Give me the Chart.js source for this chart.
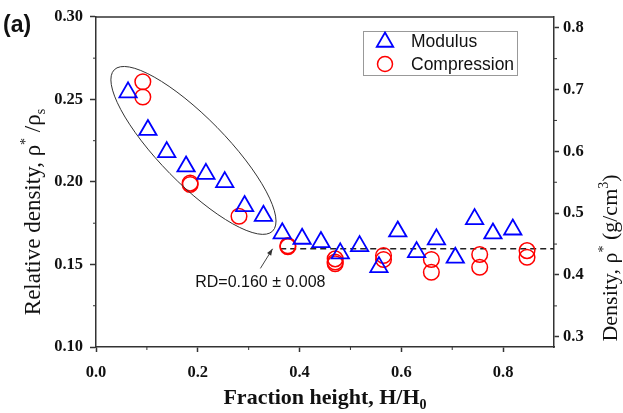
<!DOCTYPE html>
<html>
<head>
<meta charset="utf-8">
<title>Relative density vs fraction height</title>
<script src="https://cdn.jsdelivr.net/npm/chart.js@4.4.1/dist/chart.umd.min.js"></script>
<style>
	html, body { margin: 0; padding: 0; background: #fff; }
	#wrap { width: 623px; height: 413px; }
</style>
</head>
<body>
<div id="wrap"><canvas id="chart" width="623" height="413"></canvas></div>
<script>
// values
const modulusX = [0.063, 0.102, 0.139, 0.177, 0.216, 0.253, 0.292, 0.329, 0.366, 0.405, 0.442,
	0.480, 0.518, 0.556, 0.593, 0.630, 0.669, 0.706, 0.744, 0.780, 0.819];
const modulusY = [0.2543, 0.2315, 0.2181, 0.2094, 0.2049, 0.1999, 0.1854, 0.1795, 0.1689, 0.1656, 0.1636,
	0.1567, 0.1611, 0.1484, 0.1700, 0.1575, 0.1652, 0.1541, 0.1775, 0.1688, 0.1712];

const compressionX = [0.092, 0.092, 0.185, 0.185, 0.281, 0.377, 0.377, 0.470, 0.470, 0.470,
	0.565, 0.565, 0.659, 0.659, 0.754, 0.754, 0.847, 0.847];
const compressionY = [0.2607, 0.2515, 0.1993, 0.1985, 0.1792, 0.1614, 0.1608, 0.1534, 0.1515, 0.1504,
	0.1554, 0.1530, 0.1530, 0.1453, 0.1560, 0.1483, 0.1584, 0.1544];

// RD = 0.160 +/- 0.008 reference line
const rdLineX = [0.362, 0.9];
const rdLineY = [0.1595, 0.1595];
const rdLabel = 'RD=0.160 \u00b1 0.008';

// tick labels
const xTicks = [0.0, 0.2, 0.4, 0.6, 0.8];
const xMinor = [0.1, 0.3, 0.5, 0.7];
const yTicks = [0.10, 0.15, 0.20, 0.25, 0.30];
const yMinor = [0.125, 0.175, 0.225, 0.275];
const densityTicks = [0.3, 0.4, 0.5, 0.6, 0.7, 0.8];
const densityMinor = [0.35, 0.45, 0.55, 0.65, 0.75];

const serif = '"Liberation Serif", "Times New Roman", serif';
const sans = '"Liberation Sans", Arial, sans-serif';
const axisColor = '#333';

const toPoints = (xs, ys) => xs.map((x, i) => ({ x: x, y: ys[i] }));

// text with super/subscripts, centred on (x, y)
function drawRich(ctx, parts, size, weight, x, y, angle) {
	const big = `${weight} ${size}px ${serif}`;
	const small = `${weight} ${Math.round(size * 0.62)}px ${serif}`;
	ctx.save();
	ctx.translate(x, y);
	ctx.rotate(angle);
	let total = 0;
	parts.forEach(p => {
		ctx.font = (p.sup || p.sub) ? small : big;
		total += ctx.measureText(p.t).width;
	});
	let cx = -total / 2;
	ctx.fillStyle = '#111';
	ctx.textBaseline = 'alphabetic';
	ctx.textAlign = 'left';
	parts.forEach(p => {
		ctx.font = (p.sup || p.sub) ? small : big;
		const dy = p.sup ? -size * 0.42 : (p.sub ? size * 0.22 : 0);
		ctx.fillText(p.t, cx, dy);
		cx += ctx.measureText(p.t).width;
	});
	ctx.restore();
}

const decorPlugin = {
	id: 'decor',
	afterDatasetsDraw(chart) {
		const ctx = chart.ctx;
		const xs = chart.scales.x, ys = chart.scales.y;

		// ellipse around the upper points
		const p1 = { x: xs.getPixelForValue(0.036), y: ys.getPixelForValue(0.2680) };
		const p2 = { x: xs.getPixelForValue(0.347), y: ys.getPixelForValue(0.1702) };
		const cx = (p1.x + p2.x) / 2, cy = (p1.y + p2.y) / 2;
		const a = Math.hypot(p2.x - p1.x, p2.y - p1.y) / 2;
		const ang = Math.atan2(p2.y - p1.y, p2.x - p1.x);
		ctx.save();
		ctx.strokeStyle = '#333';
		ctx.lineWidth = 1;
		ctx.beginPath();
		ctx.ellipse(cx, cy, a, 33, ang, 0, Math.PI * 2);
		ctx.stroke();

		// RD label and arrow
		ctx.font = `16px ${sans}`;
		ctx.fillStyle = '#111';
		ctx.textBaseline = 'alphabetic';
		ctx.fillText(rdLabel, xs.getPixelForValue(0.195), ys.getPixelForValue(0.1363));
		const ax0 = xs.getPixelForValue(0.323), ay0 = ys.getPixelForValue(0.1476);
		const ax1 = xs.getPixelForValue(0.347), ay1 = ys.getPixelForValue(0.1595);
		ctx.strokeStyle = '#444';
		ctx.beginPath();
		ctx.moveTo(ax0, ay0);
		ctx.lineTo(ax1, ay1);
		ctx.stroke();
		const t = Math.atan2(ay1 - ay0, ax1 - ax0);
		ctx.fillStyle = '#333';
		ctx.beginPath();
		ctx.moveTo(ax1, ay1);
		ctx.lineTo(ax1 - 7 * Math.cos(t - 0.35), ay1 - 7 * Math.sin(t - 0.35));
		ctx.lineTo(ax1 - 7 * Math.cos(t + 0.35), ay1 - 7 * Math.sin(t + 0.35));
		ctx.closePath();
		ctx.fill();
		ctx.restore();
	},
	afterDraw(chart) {
		const ctx = chart.ctx;
		const area = chart.chartArea;
		const xs = chart.scales.x, ys = chart.scales.y, y1 = chart.scales.y1;

		ctx.save();
		// top frame line
		ctx.strokeStyle = axisColor;
		ctx.lineWidth = 1.5;
		ctx.beginPath();
		ctx.moveTo(area.left, area.top);
		ctx.lineTo(area.right, area.top);
		ctx.stroke();

		// minor ticks
		ctx.lineWidth = 1;
		ctx.beginPath();
		xMinor.forEach(v => {
			const px = xs.getPixelForValue(v);
			ctx.moveTo(px, area.bottom);
			ctx.lineTo(px, area.bottom + 3);
		});
		yMinor.forEach(v => {
			const py = ys.getPixelForValue(v);
			ctx.moveTo(area.left, py);
			ctx.lineTo(area.left - 3, py);
		});
		densityMinor.forEach(v => {
			const py = y1.getPixelForValue(v);
			ctx.moveTo(area.right, py);
			ctx.lineTo(area.right + 3, py);
		});
		ctx.stroke();

		// panel label
		ctx.font = `bold 23px ${sans}`;
		ctx.fillStyle = '#111';
		ctx.textBaseline = 'alphabetic';
		ctx.fillText('(a)', 3, 32);

		// legend box
		ctx.strokeStyle = '#999';
		ctx.lineWidth = 1;
		ctx.strokeRect(363.5, 31.5, 154, 44);
		ctx.fillStyle = 'rgba(0,0,0,0)';
		ctx.strokeStyle = '#0000ff';
		ctx.lineWidth = 1.8;
		Chart.helpers.drawPoint(ctx, { pointStyle: 'triangle', radius: 9.5, borderWidth: 1.8, rotation: 0 }, 385, 42);
		ctx.strokeStyle = '#ff0000';
		ctx.lineWidth = 1.5;
		Chart.helpers.drawPoint(ctx, { pointStyle: 'circle', radius: 7.5, borderWidth: 1.5, rotation: 0 }, 385, 64);
		ctx.fillStyle = '#111';
		ctx.font = `17.5px ${sans}`;
		ctx.textBaseline = 'middle';
		ctx.fillText('Modulus', 411, 42);
		ctx.fillText('Compression', 411, 65);
		ctx.restore();

		// axis titles
		drawRich(ctx, [
			{ t: 'Relative density, \u03c1' }, { t: '*', sup: true }, { t: ' /\u03c1' }, { t: 's', sub: true }
		], 23, 'normal', 40, 212, -Math.PI / 2);
		drawRich(ctx, [
			{ t: 'Fraction height, H/H' }, { t: '0', sub: true }
		], 22, 'bold', (area.left + area.right) / 2, 404, 0);
		drawRich(ctx, [
			{ t: 'Density, \u03c1' }, { t: '*', sup: true }, { t: ' (g/cm' }, { t: '3', sup: true }, { t: ')' }
		], 22, 'normal', 617, 258, -Math.PI / 2);
	}
};

const tickFont = { family: serif, size: 16.5, weight: 'bold' };

new Chart(document.getElementById('chart').getContext('2d'), {
	type: 'scatter',
	data: {
		datasets: [
			{
				label: 'Modulus',
				data: toPoints(modulusX, modulusY),
				pointStyle: 'triangle',
				pointRadius: 10,
				borderColor: '#0000ff',
				backgroundColor: 'rgba(0,0,0,0)',
				borderWidth: 1.8
			},
			{
				label: 'Compression',
				data: toPoints(compressionX, compressionY),
				pointStyle: 'circle',
				pointRadius: 7.8,
				borderColor: '#ff0000',
				backgroundColor: 'rgba(0,0,0,0)',
				borderWidth: 1.5
			},
			{
				label: 'RD',
				type: 'line',
				data: toPoints(rdLineX, rdLineY),
				borderColor: '#222',
				borderWidth: 1.5,
				borderDash: [6, 4],
				pointRadius: 0,
				fill: false
			}
		]
	},
	options: {
		responsive: false,
		devicePixelRatio: 1,
		animation: false,
		layout: { padding: { top: 16, left: 0, right: 0, bottom: 0 } },
		plugins: {
			legend: { display: false },
			tooltip: { enabled: false },
			title: { display: false }
		},
		scales: {
			x: {
				type: 'linear',
				position: 'bottom',
				min: 0,
				max: 0.9,
				afterBuildTicks: s => { s.ticks = xTicks.map(v => ({ value: v })); },
				afterFit: s => { s.height = 66; },
				grid: { drawOnChartArea: false, tickLength: 5, tickColor: axisColor, tickWidth: 1.5 },
				border: { color: axisColor, width: 1.5 },
				ticks: { font: tickFont, color: '#111', padding: 11, maxRotation: 0, callback: v => v.toFixed(1) }
			},
			y: {
				type: 'linear',
				position: 'left',
				min: 0.10,
				max: 0.30,
				afterBuildTicks: s => { s.ticks = yTicks.map(v => ({ value: v })); },
				afterFit: s => { s.width = 96; },
				grid: { drawOnChartArea: false, tickLength: 6, tickColor: axisColor, tickWidth: 1.5 },
				border: { color: axisColor, width: 1.5 },
				ticks: { font: tickFont, color: '#111', padding: 7, callback: v => v.toFixed(2) }
			},
			y1: {
				type: 'linear',
				position: 'right',
				min: 0.2835,
				max: 0.8175,
				afterBuildTicks: s => { s.ticks = densityTicks.map(v => ({ value: v })); },
				afterFit: s => { s.width = 69; },
				grid: { drawOnChartArea: false, tickLength: 5, tickColor: axisColor, tickWidth: 1.5 },
				border: { color: axisColor, width: 1.5 },
				ticks: { font: tickFont, color: '#111', padding: 4, callback: v => v.toFixed(1) }
			}
		}
	},
	plugins: [decorPlugin]
});
</script>
</body>
</html>
